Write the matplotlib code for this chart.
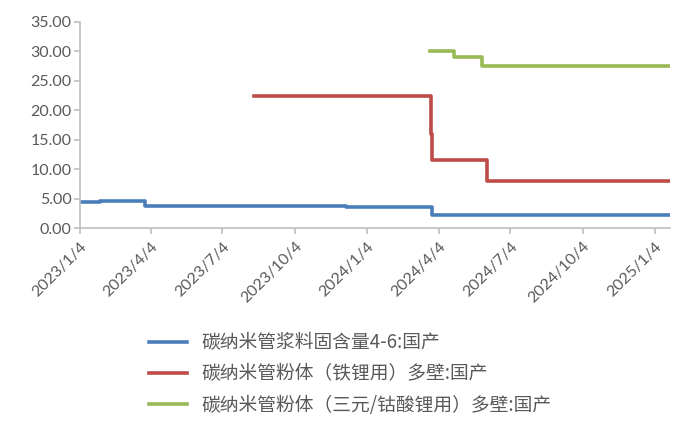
import matplotlib
matplotlib.use("Agg")
import matplotlib.pyplot as plt
import pandas as pd

# Step series: (change dates, values); each value holds until the next date.
blue_dates = ["2023-01-04", "2023-01-30", "2023-03-28", "2023-12-08", "2024-03-27", "2025-01-23"]
blue_values = [4.4, 4.6, 3.8, 3.6, 2.2, 2.2]

red_dates = ["2023-08-13", "2024-03-25", "2024-03-27", "2024-06-04", "2025-01-23"]
red_values = [22.5, 16.0, 11.5, 8.0, 8.0]

green_dates = ["2024-03-24", "2024-04-24", "2024-05-29", "2025-01-23"]
green_values = [30.0, 29.0, 27.5, 27.5]

series_names = [
    "碳纳米管浆料固含量4-6:国产",
    "碳纳米管粉体（铁锂用）多壁:国产",
    "碳纳米管粉体（三元/钴酸锂用）多壁:国产",
]
series_colors = ["#4A7EBB", "#BE4B48", "#98B954"]

tick_dates = ["2023-01-04", "2023-04-04", "2023-07-04", "2023-10-04", "2024-01-04",
              "2024-04-04", "2024-07-04", "2024-10-04", "2025-01-04"]
tick_labels = ["2023/1/4", "2023/4/4", "2023/7/4", "2023/10/4", "2024/1/4",
               "2024/4/4", "2024/7/4", "2024/10/4", "2025/1/4"]
y_ticks = [0, 5, 10, 15, 20, 25, 30, 35]

plt.rcParams["font.family"] = ["Noto Sans CJK SC", "DejaVu Sans"]

fig = plt.figure(figsize=(6.95, 4.37), dpi=100)
ax = fig.add_axes([0.115, 0.478, 0.849, 0.472])

all_series = [(blue_dates, blue_values), (red_dates, red_values), (green_dates, green_values)]
for (dates, values), name, color in zip(all_series, series_names, series_colors):
    ax.plot(pd.to_datetime(dates), values, drawstyle="steps-post",
            color=color, linewidth=2.6, label=name)

ax.set_xlim(pd.Timestamp("2023-01-04"), pd.Timestamp("2025-01-23"))
ax.set_ylim(0, 35)
ax.set_yticks(y_ticks)
ax.yaxis.set_major_formatter(plt.FuncFormatter(lambda v, _: f"{v:.2f}"))
ax.set_xticks(pd.to_datetime(tick_dates))
ax.set_xticklabels(tick_labels, rotation=45, ha="right", rotation_mode="anchor")

tick_color = "#595959"
for label in ax.get_xticklabels() + ax.get_yticklabels():
    label.set_family(["Lato", "DejaVu Sans"])
    label.set_fontsize(11.5)
    label.set_color(tick_color)

ax.spines["top"].set_visible(False)
ax.spines["right"].set_visible(False)
for side in ("left", "bottom"):
    ax.spines[side].set_color("#BFBFBF")
    ax.spines[side].set_linewidth(1.2)
ax.tick_params(axis="both", direction="out", length=4, width=1.2, color="#BFBFBF", pad=2)
ax.tick_params(axis="x", pad=4)

fig.legend(loc="upper left", bbox_to_anchor=(0.204, 0.257), frameon=False,
           fontsize=13.5, labelcolor=tick_color, handlelength=2.0,
           handletextpad=0.8, labelspacing=0.55, borderaxespad=0)

fig.savefig("out.png", dpi=100, facecolor="white")
